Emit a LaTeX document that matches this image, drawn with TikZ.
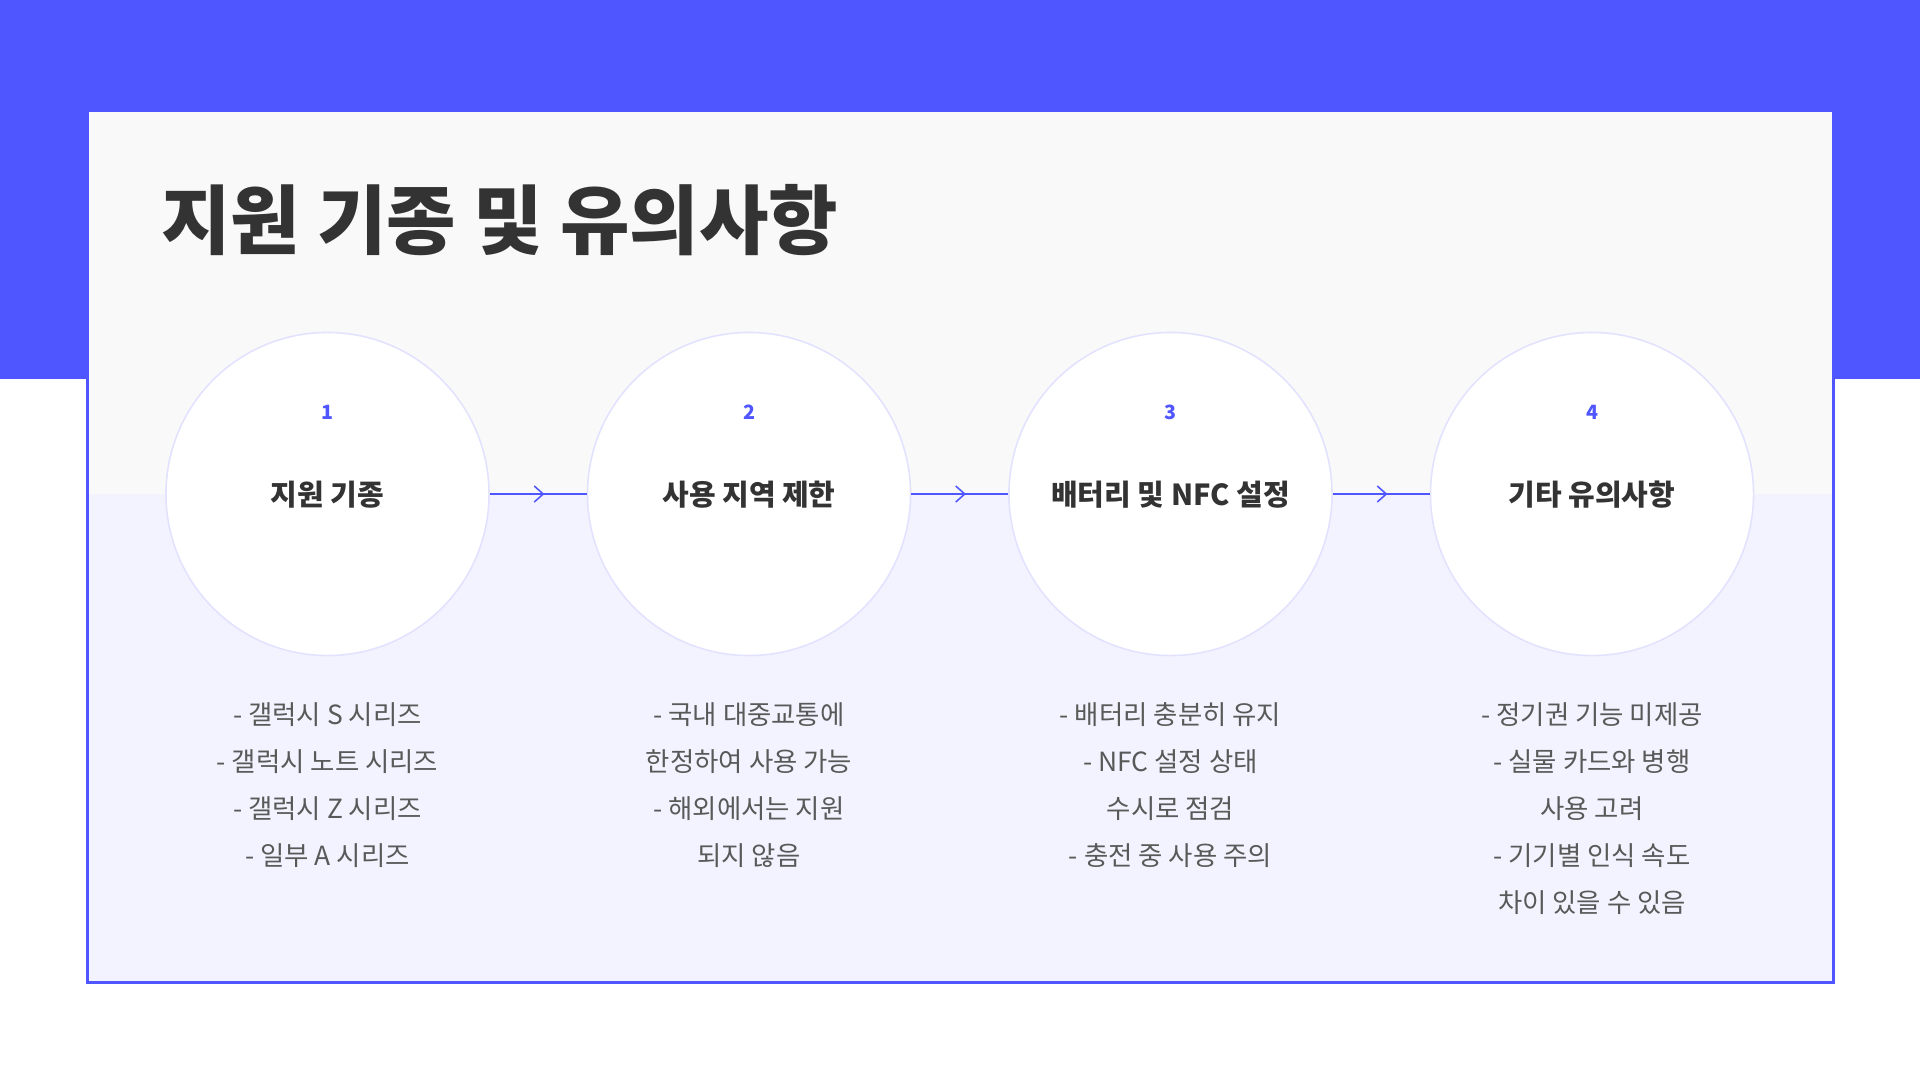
\documentclass[tikz,border=0pt]{standalone}
\usepackage{fontspec}
\setmainfont{Noto Sans CJK KR}
\usetikzlibrary{calc}
\definecolor{brand}{HTML}{5056FF}
\definecolor{cardtop}{HTML}{F9F9F9}
\definecolor{cardbot}{HTML}{F3F3FF}
\definecolor{ring}{HTML}{E2E2FF}
\definecolor{titlecol}{HTML}{333333}
\definecolor{bodycol}{HTML}{595959}
\tikzset{
  stepcircle/.style={circle, draw=ring, fill=white, line width=1.1pt, minimum size=8.075cm, inner sep=0pt},
  numlabel/.style={font=\fontsize{14}{16}\selectfont\bfseries, text=brand, inner sep=0pt, anchor=base},
  circtitle/.style={font=\fontsize{20.6}{22}\selectfont\bfseries, text=titlecol, inner sep=0pt, anchor=base},
  bodytext/.style={font=\fontsize{18.8}{33.5}\selectfont, text=bodycol, inner sep=0pt, anchor=north, align=center},
  flow/.style={draw=brand, line width=1.1pt},
  maintitle/.style={font=\fontsize{53.7}{60}\selectfont\bfseries, text=titlecol, inner sep=0pt, anchor=base west}
}
\begin{document}
\begin{tikzpicture}[x=0.025cm,y=-0.025cm]
\useasboundingbox (0,0) rectangle (1920,1080);
\fill[white] (0,0) rectangle (1920,1080);
\fill[brand] (0,0) rectangle (1920,379);
\fill[cardtop] (87.5,110) rectangle (1833.5,494);
\fill[cardbot] (87.5,494) rectangle (1833.5,982.5);
\draw[brand, line width=2.13pt] (87.5,110) rectangle (1833.5,982.5);
\node[maintitle] (title) at (161,248) {지원 기종 및 유의사항};
\node[stepcircle] (c1) at (327.5,494) {};
\node[stepcircle] (c2) at (749,494) {};
\node[stepcircle] (c3) at (1170.5,494) {};
\node[stepcircle] (c4) at (1592,494) {};
\node[numlabel] (n1) at (327.5,419) {1};
\node[numlabel] (n2) at (749,419) {2};
\node[numlabel] (n3) at (1170.5,419) {3};
\node[numlabel] (n4) at (1592,419) {4};
\node[circtitle] (t1) at (327.5,505) {지원 기종};
\node[circtitle] (t2) at (749,505) {사용 지역 제한};
\node[circtitle] (t3) at (1170.5,505) {배터리 및 NFC 설정};
\node[circtitle] (t4) at (1592,505) {기타 유의사항};
\foreach \a/\b/\m in {c1/c2/m1, c2/c3/m2, c3/c4/m3}{
  \draw[flow] (\a.east) -- (\b.west);
  \coordinate (\m) at ($(\a.east)!0.5!(\b.west)+(5,0)$);
  \draw[flow] ([shift={(-9,-8)}]\m) -- (\m) -- ([shift={(-9,8)}]\m);
}
\node[bodytext] (b1) at (327.5,702) {- 갤럭시 S 시리즈\\- 갤럭시 노트 시리즈\\- 갤럭시 Z 시리즈\\- 일부 A 시리즈};
\node[bodytext] (b2) at (749,702) {- 국내 대중교통에\\한정하여 사용 가능\\- 해외에서는 지원\\되지 않음};
\node[bodytext] (b3) at (1170.5,702) {- 배터리 충분히 유지\\- NFC 설정 상태\\수시로 점검\\- 충전 중 사용 주의};
\node[bodytext] (b4) at (1592,702) {- 정기권 기능 미제공\\- 실물 카드와 병행\\사용 고려\\- 기기별 인식 속도\\차이 있을 수 있음};
\end{tikzpicture}
\end{document}
